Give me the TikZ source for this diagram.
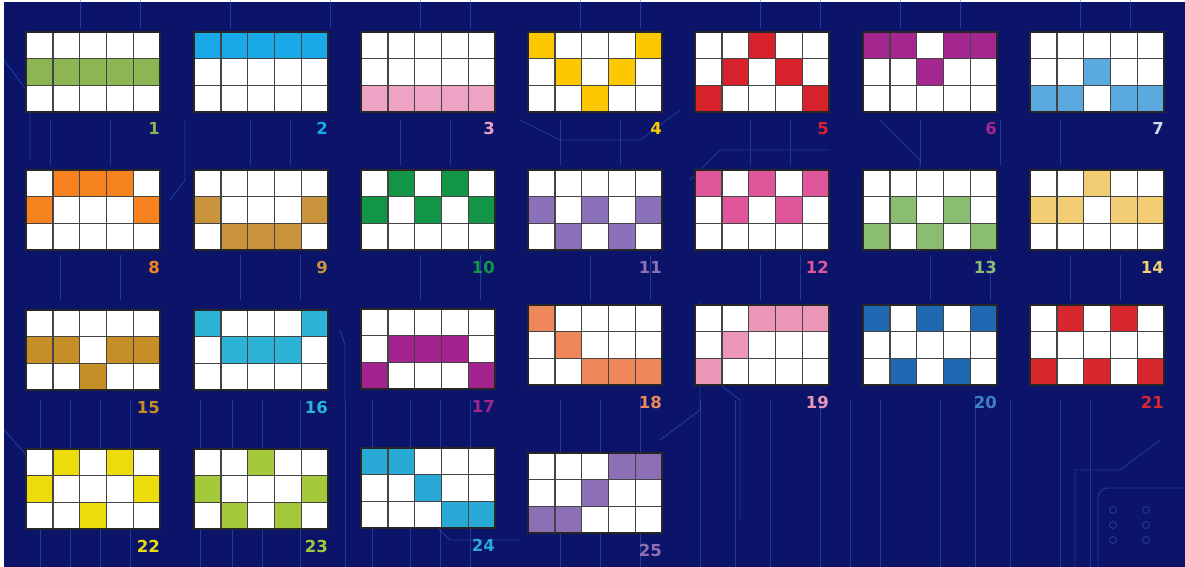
\documentclass[tikz,border=0pt]{standalone}
\usepackage{fontspec}
\setmainfont{DejaVu Sans}
\usetikzlibrary{positioning}
\definecolor{navy}{HTML}{0B1468}
\definecolor{trace}{HTML}{2F62D6}
\definecolor{gridgray}{HTML}{444444}
\definecolor{cA}{HTML}{8DB653}
\definecolor{cB}{HTML}{19A8E8}
\definecolor{cC}{HTML}{EEA2C4}
\definecolor{cD}{HTML}{FCC900}
\definecolor{cE}{HTML}{D7212B}
\definecolor{cF}{HTML}{A3278F}
\definecolor{cG}{HTML}{5BAADF}
\definecolor{cH}{HTML}{F6831F}
\definecolor{cI}{HTML}{C9943C}
\definecolor{cJ}{HTML}{129546}
\definecolor{cK}{HTML}{8B71B9}
\definecolor{cL}{HTML}{E0569B}
\definecolor{cM}{HTML}{8ABC72}
\definecolor{cN}{HTML}{F2CD74}
\definecolor{cO}{HTML}{C58E27}
\definecolor{cP}{HTML}{2CB3D7}
\definecolor{cQ}{HTML}{A4248F}
\definecolor{cR}{HTML}{EE885B}
\definecolor{cS}{HTML}{EB95B9}
\definecolor{cT}{HTML}{2068B1}
\definecolor{cU}{HTML}{D8272D}
\definecolor{cV}{HTML}{EDDC0C}
\definecolor{cW}{HTML}{A4C93B}
\definecolor{cX}{HTML}{29A9D5}
\definecolor{cY}{HTML}{8D6FB5}
\definecolor{lG}{HTML}{C9DDEE}
\definecolor{lT}{HTML}{3D80C2}
\tikzset{
  gridline/.style={draw=gridgray, line width=1.4pt},
  numlbl/.style={font=\bfseries\fontsize{16.5}{16.5}\selectfont, anchor=base east, inner sep=0pt},
  pcb/.style={draw=trace, line width=0.9pt, opacity=0.5}
}

\begin{document}
\begin{tikzpicture}[x=1pt,y=-1pt]
\useasboundingbox (0,0) rectangle (1185,567);
\fill[white] (0,0) rectangle (1185,567);
\fill[navy] (4,2) rectangle (1185,567);

% circuit traces in the back
\begin{scope}[pcb]
\foreach \t in {40,70,100,130,200,232,262,300,345,372,410,440,470,560,600,640,700,735,770,820,850,880,940,975,1010,1060,1090}
  \draw (\t,400) -- (\t,567);
\foreach \t in {60,120,240,300,420,480,590,650,760,800,930,990,1070,1120}
  \draw (\t,255) -- (\t,300);
\foreach \t in {50,110,250,290,400,450,560,620,750,790,920,1000,1060}
  \draw (\t,120) -- (\t,165);
\foreach \t in {80,140,230,330,420,470,580,640,760,820,900,960,1080,1130}
  \draw (\t,0) -- (\t,28);
\draw (4,60) -- (30,95) -- (30,160);
\draw (4,430) -- (40,470);
\draw (170,200) -- (185,180) -- (185,120);
\draw (340,330) -- (345,345) -- (345,400);
\draw (520,120) -- (560,140) -- (640,140) -- (680,110);
\draw (690,180) -- (720,150) -- (830,150);
\draw (700,370) -- (740,400) -- (740,520);
\draw (420,510) -- (450,540) -- (520,540);
\draw (880,120) -- (920,160) -- (920,250);
\draw (660,440) -- (700,410) -- (700,300);
\draw (1160,440) -- (1120,470) -- (1075,470) -- (1075,567);
\draw[rounded corners=10pt] (1098,567) -- (1098,488) -- (1185,488);
\foreach \cx in {1113,1146}
  \foreach \cy in {510,525,540}
    \draw (\cx,\cy) circle (3.5);
\end{scope}

% the 25 lines
\foreach \n/\px/\py/\cl/\lc/\a/\b/\c/\d/\e in {
  1/26/32/cA/cA/2/2/2/2/2, 2/194/32/cB/cB/1/1/1/1/1, 3/361/32/cC/cC/3/3/3/3/3,
  4/528/32/cD/cD/1/2/3/2/1, 5/695/32/cE/cE/3/2/1/2/3, 6/863/32/cF/cF/1/1/2/1/1,
  7/1030/32/cG/lG/3/3/2/3/3,
  8/26/170/cH/cH/2/1/1/1/2, 9/194/170/cI/cI/2/3/3/3/2, 10/361/170/cJ/cJ/2/1/2/1/2,
  11/528/170/cK/cK/2/3/2/3/2, 12/695/170/cL/cL/1/2/1/2/1, 13/863/170/cM/cM/3/2/3/2/3,
  14/1030/170/cN/cN/2/2/1/2/2,
  15/26/310/cO/cO/2/2/3/2/2, 16/194/310/cP/cP/1/2/2/2/1, 17/361/309/cQ/cQ/3/2/2/2/3,
  18/528/305/cR/cR/1/2/3/3/3, 19/695/305/cS/cS/3/2/1/1/1, 20/863/305/cT/lT/1/3/1/3/1,
  21/1030/305/cU/cU/3/1/3/1/3,
  22/26/449/cV/cV/2/1/3/1/2, 23/194/449/cW/cW/2/3/1/3/2, 24/361/448/cX/cX/1/1/2/3/3,
  25/528/453/cY/cY/3/3/2/1/1}{
  \begin{scope}[shift={(\px,\py)}]
    \fill[white] (0,0) rectangle (134,80);
    \foreach \r [count=\k from 0] in {\a,\b,\c,\d,\e}
      \fill[\cl] (\k*26.8,\r*26.67-26.67) rectangle ++(26.8,26.67);
    \foreach \k in {1,...,4}
      \draw[gridline] (\k*26.8,0) -- (\k*26.8,80);
    \foreach \k in {1,2}
      \draw[gridline] (0,\k*26.67) -- (134,\k*26.67);
    \draw[gridline, draw=black!85, line width=1.8pt] (0,0) rectangle (134,80);
    \node[numlbl, text=\lc] (lbl\n) at (134,103) {\n};
  \end{scope}
}
\end{tikzpicture}
\end{document}
